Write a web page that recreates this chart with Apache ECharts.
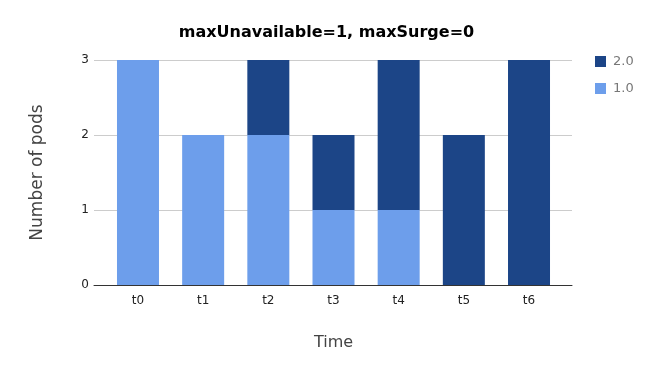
<!DOCTYPE html>
<html><head><meta charset="utf-8">
<script src="https://cdn.jsdelivr.net/npm/echarts@6/dist/echarts.min.js"></script>
<style>html,body{margin:0;padding:0;background:#fff}#c{width:653px;height:371px}</style>
</head><body><div id="c"></div>
<script>
const categories = ['t0','t1','t2','t3','t4','t5','t6'];
const v1 = [3, 2, 2, 1, 1, 0, 0];
const v2 = [0, 0, 1, 1, 2, 2, 3];
const font = 'DejaVu Sans';
const chart = echarts.init(document.getElementById('c'));
chart.setOption({
  animation: false,
  title: { text: 'maxUnavailable=1, maxSurge=0', left: 'center', top: 20,
    textStyle: { fontFamily: font, fontSize: 16, fontWeight: 'bold', color: '#000' } },
  legend: { orient: 'vertical', left: 590, top: 50, itemWidth: 11, itemHeight: 11, itemGap: 14,
    icon: 'rect', data: ['2.0', '1.0'],
    textStyle: { fontFamily: font, fontSize: 13, color: '#777', padding: [0,0,0,2] } },
  grid: [
    { left: 94, right: 81, top: 60, bottom: 86 },
    { left: 105.4, right: 91.4, top: 60, bottom: 86 }
  ],
  xAxis: [
    { gridIndex: 0, type: 'category', data: categories, axisLine: { lineStyle: { color: '#333' } },
      axisTick: { show: false }, axisLabel: { show: false }, z: 5 },
    { gridIndex: 1, type: 'category', data: categories,
      axisLine: { show: false }, axisTick: { show: false },
      axisLabel: { fontFamily: font, fontSize: 12, color: '#222', margin: 10 },
      name: 'Time', nameLocation: 'middle', nameGap: 50,
      nameTextStyle: { fontFamily: font, fontSize: 16, color: '#444' } }
  ],
  yAxis: [
    { gridIndex: 0, type: 'value', min: 0, max: 3, interval: 1,
      axisLine: { show: false }, axisTick: { show: false },
      splitLine: { lineStyle: { color: '#ccc' } },
      axisLabel: { fontFamily: font, fontSize: 12, color: '#222', margin: 5 },
      name: 'Number of pods', nameLocation: 'middle', nameGap: 48, nameRotate: 90,
      nameTextStyle: { fontFamily: font, fontSize: 17, color: '#444' } },
    { gridIndex: 1, type: 'value', min: 0, max: 3, interval: 1, show: false, splitLine: { show: false } }
  ],
  series: [
    { name: '1.0', type: 'bar', stack: 's', xAxisIndex: 1, yAxisIndex: 1, data: v1,
      barWidth: 42, itemStyle: { color: '#6d9eeb' } },
    { name: '2.0', type: 'bar', stack: 's', xAxisIndex: 1, yAxisIndex: 1, data: v2,
      barWidth: 42, itemStyle: { color: '#1c4587' } }
  ]
});
</script></body></html>
